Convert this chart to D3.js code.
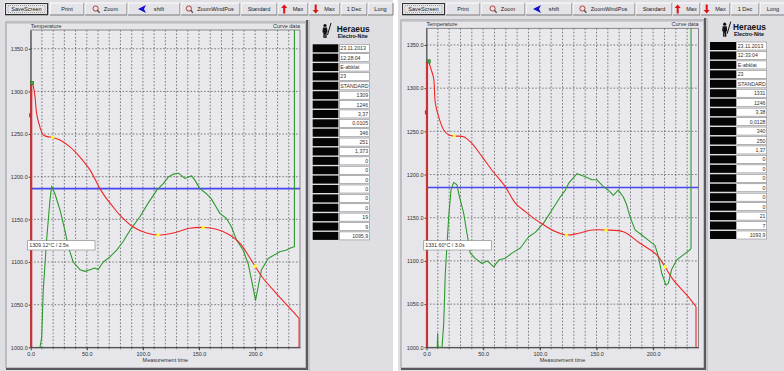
<!DOCTYPE html>
<html><head><meta charset="utf-8">
<script src="https://cdn.jsdelivr.net/npm/d3@7"></script>
<style>html,body{margin:0;padding:0;background:#fff;overflow:hidden}svg{display:block;font-family:"Liberation Sans",Arial,sans-serif}</style>
</head><body><svg id="c" width="784" height="371"></svg>
<script>
// ---------------- DATA ----------------
const buttonLabels = ["SaveScreen","Print","Zoom","shift","ZoomWindPos","Standard","Max","Max","1 Dec","Long"];
const xTickValues = [0,50,100,150,200];
const xGridValues = [10,20,30,40,50,60,70,80,90,100,110,120,130,140,150,160,170,180,190,200,210,220,230];
const yTickValues = [1000,1050,1100,1150,1200,1250,1300,1350];
const yAxisTitle = "Temperature";
const curveTitle = "Curve data";
const xAxisTitle = "Measurement time";

// left screenshot
const leftRedTime = [1.2,2,3.8,5.3,8.3,11.2,15,19.6,26.1,35,43.9,52.8,61.7,67.7,72,79.5,91.4,103.3,113.6,127,141.8,153.7,165.6,177.5,186.4,193.8,200,207.1,219,230.9,239.2,239.2];
const leftRedTemp = [1310,1308,1294,1274,1258,1249,1247,1246,1243,1235,1223,1208,1186,1174,1167,1155,1141,1134,1131.6,1134,1139.5,1140.5,1138.3,1131.6,1122,1108,1095,1081,1063,1046,1034,1000];
const leftGreenTime = [8.3,9.8,11.2,14.2,17.2,18.7,21.6,26.1,30.5,33.5,37.9,43.9,48.4,52.8,57.3,60,64.7,70.6,76.6,82.4,88.4,97.3,104.7,112.2,118.1,123,127,132,137.4,143.4,146.3,150.8,156.7,161,165,168.6,174.5,179,183.4,189.3,193.8,196.8,200.4,202.7,205.7,211.6,222,228,231,234.7,235,235];
const leftGreenTemp = [1000,1012,1067,1126,1173,1189,1180,1161,1137,1118,1100,1091,1089,1091,1093,1091,1100,1106,1114,1124,1137,1153,1169,1184,1192,1200,1203,1204,1198,1201,1196,1186,1180,1174,1165,1157,1151,1141,1126,1114,1098,1079,1055,1071,1091,1104,1112,1114,1116,1118,1118,1372];
const leftMarkersTime = [19.6,113.6,153.7,200];
const leftMarkersTemp = [1246,1131.6,1140.5,1095];
const leftStart = [1.2,1310];
const leftLevel = 1186;
const leftBoxText = "1309.12°C  /  2.5s";
const leftTable = ["23.11.2013","12:28:04","E-abklat","23","STANDARD","1309","1246","3,37","0,0105","346","251","1,373","0","0","0","0","0","0","19","9","1095,9"];

// right screenshot
const rightRedTime = [1.9,4,6.3,7.8,10.7,15.2,19.6,24.5,32.8,40.1,49,57.8,69.5,78.4,87.2,95,101.9,113.7,123.4,134.3,146,158.4,173.7,188.4,203.1,210.4,217.8,229.6,237.8,237.8];
const rightRedTemp = [1331,1322,1311.5,1282.5,1267,1251.6,1245.8,1244.6,1243.8,1236,1220.7,1205,1186,1167,1157,1149,1143,1134,1130,1132,1135.8,1135.8,1133.8,1120.4,1107,1093.3,1078,1060.6,1047,1000];
const rightGreenTime = [9.5,9.8,10.1,10.4,13.7,15.2,16.6,19.6,21.6,24,26.9,28.4,32.8,35.7,38.6,43,49,53.4,56.3,59.3,63.7,69.5,75.4,82.8,90.2,96,103.4,110.7,118,122.5,125.5,132.8,140.1,146,150.2,156.1,162,164.8,169.2,173.7,176.6,179.6,184,189.9,195.7,201.6,204.6,207.5,211.3,213.4,216.3,220.7,226.6,232.5,233.4,233.4];
const rightGreenTemp = [1000,1016,1003,1000,1000,1028,1086,1151,1182,1191,1188,1178,1155,1132,1109,1103,1097,1100,1097,1093,1101,1103,1109,1115,1128,1133,1144,1159,1174,1182,1190,1201,1197.5,1194,1194,1186,1180,1176,1182,1174,1165,1151,1136,1130,1124,1118,1105,1086,1072,1074,1090,1101,1107,1113,1115,1372];
const rightMarkersTime = [24.5,123.4,158.4,210.4];
const rightMarkersTemp = [1244.6,1130,1135.8,1093.3];
const rightStart = [1.9,1331];
const rightLevel = 1185;
const rightBoxText = "1331.60°C  /  3.0s";
const rightTable = ["23.11.2013","12:33:04","E-abklat","23","STANDARD","1331","1246","3,38","0,0128","340","250","1,37","0","0","0","0","0","0","21","7","1093,9"];
const redTick = 1272;

// ---------------- LAYOUT ----------------
const leftGeom = {
  bg:[0,393],
  buttons:[[5,48],[50,84],[85,127],[128,180],[181,240],[241,277],[278,308],[309,340],[341,367],[368,393]],
  panel:{x:6,y:22,w:300,h:346},
  plot:{x0:30.7,x1:300,y0:30,y1:347.3,yTop:1372},
  table:{bx:312.7,bw:25.6,wx:339.3,ww:30,y0:48.3,pitch:9.38,h:8},
  logo:{fx:322,tx:336.7,y:23},
  box:{x:27.7,y:240.7,w:67.3,h:9.3}
};
const rightGeom = {
  bg:[398,784],
  buttons:[[402,445],[446,480],[481,525],[526,572],[573,635],[636,672],[673,700],[701,730],[731,759],[760,786]],
  panel:{x:401,y:20,w:303,h:348},
  plot:{x0:426.5,x1:698.5,y0:28.3,y1:347.3,yTop:1369.3},
  table:{bx:710,bw:26,wx:736.7,ww:30,y0:46,pitch:9.45,h:8},
  logo:{fx:721.7,tx:733,y:21.7},
  box:{x:423.7,y:240.7,w:67.6,h:9.3}
};

const svg = d3.select("#c");
svg.append("rect").attr("width",784).attr("height",371).attr("fill","#ffffff");

function drawScreen(G, D, id){
  const root = svg.append("g");
  root.append("rect").attr("x",G.bg[0]).attr("y",0).attr("width",G.bg[1]-G.bg[0]).attr("height",371).attr("fill","#dedee3");

  // toolbar buttons
  G.buttons.forEach((b,i)=>{
    const bx=b[0], bw=b[1]-b[0], by=3, bh=12;
    const bg = root.append("g");
    bg.append("rect").attr("x",bx).attr("y",by).attr("width",bw).attr("height",bh).attr("fill","#e4e4e8");
    bg.append("path").attr("d",`M${bx},${by+bh}V${by}H${bx+bw}`).attr("stroke","#ffffff").attr("fill","none");
    bg.append("path").attr("d",`M${bx},${by+bh}H${bx+bw}V${by}`).attr("stroke","#7a7a7a").attr("fill","none");
    if(i===0){
      bg.append("rect").attr("x",bx+0.5).attr("y",by+0.5).attr("width",bw-1).attr("height",bh-1).attr("fill","none").attr("stroke","#303030").attr("stroke-width",1);
      bg.append("rect").attr("x",bx+3).attr("y",by+2.5).attr("width",bw-6).attr("height",bh-5).attr("fill","none").attr("stroke","#606060").attr("stroke-width",0.5).attr("stroke-dasharray","1,1");
    }
    let tx = bx+bw/2;
    const icon = (i===2||i===4)?"mag":(i===3?"arr":(i===6?"up":(i===7?"dn":null)));
    if(icon){
      const ix = bx+bw/2 - (buttonLabels[i].length*1.6) - 4;
      tx += 5;
      if(icon==="mag"){
        bg.append("circle").attr("cx",ix).attr("cy",by+5.5).attr("r",2.6).attr("fill","#f0e0e0").attr("stroke","#a03030").attr("stroke-width",0.9);
        bg.append("line").attr("x1",ix+1.8).attr("y1",by+7.3).attr("x2",ix+4).attr("y2",by+9.7).attr("stroke","#505050").attr("stroke-width",1.3);
      } else if(icon==="arr"){
        bg.append("path").attr("d",`M${ix-4},${by+6}L${ix+4},${by+2}L${ix+2},${by+6}L${ix+4},${by+10}Z`).attr("fill","#1010d0");
      } else if(icon==="up"){
        bg.append("path").attr("d",`M${ix},${by+1.5}L${ix+3},${by+5}H${ix+1}V${by+10.5}H${ix-1}V${by+5}H${ix-3}Z`).attr("fill","#e01010");
      } else {
        bg.append("path").attr("d",`M${ix},${by+10.5}L${ix+3},${by+7}H${ix+1}V${by+1.5}H${ix-1}V${by+7}H${ix-3}Z`).attr("fill","#e01010");
      }
    }
    bg.append("text").attr("x",tx).attr("y",by+8.2).attr("text-anchor","middle").attr("font-size",5.6).attr("fill","#202020").text(buttonLabels[i]);
  });

  // panel
  const P=G.panel;
  root.append("rect").attr("x",P.x).attr("y",P.y).attr("width",P.w).attr("height",P.h).attr("fill","#e6e6ea").attr("stroke","#9a9a9e").attr("stroke-width",1);
  root.append("path").attr("d",`M${P.x+P.w+1},${P.y-2}V${P.y+P.h+1}H${P.x}`).attr("stroke","#5a5a5e").attr("stroke-width",2).attr("fill","none");
  root.append("line").attr("x1",P.x+P.w+3).attr("x2",P.x+P.w+3).attr("y1",P.y-2).attr("y2",371).attr("stroke","#a8a8ac").attr("stroke-width",1);

  const p=G.plot;
  const x = d3.scaleLinear().domain([0,240]).range([p.x0,p.x1]);
  const y = d3.scaleLinear().domain([1000,p.yTop]).range([p.y1,p.y0]);

  root.append("rect").attr("x",p.x0).attr("y",p.y0).attr("width",p.x1-p.x0).attr("height",p.y1-p.y0).attr("fill","#e9e9ed");

  // grid
  root.append("g").selectAll("line").data(xGridValues).join("line")
    .attr("x1",d=>x(d)).attr("x2",d=>x(d)).attr("y1",p.y0).attr("y2",p.y1)
    .attr("stroke","#4a4a4a").attr("stroke-width",0.7).attr("stroke-dasharray","1.6,1.8");
  root.append("g").selectAll("line").data(yTickValues.slice(1)).join("line")
    .attr("x1",p.x0).attr("x2",p.x1).attr("y1",d=>y(d)).attr("y2",d=>y(d))
    .attr("stroke","#4a4a4a").attr("stroke-width",0.7).attr("stroke-dasharray","1.6,1.8");

  // frame
  root.append("rect").attr("x",p.x0).attr("y",p.y0).attr("width",p.x1-p.x0).attr("height",p.y1-p.y0).attr("fill","none").attr("stroke","#707074").attr("stroke-width",0.8);
  root.append("line").attr("x1",P.x).attr("x2",P.x+P.w).attr("y1",P.y+1.5).attr("y2",P.y+1.5).attr("stroke","#c8c8cc").attr("stroke-width",0.8);

  // axes
  const xa = d3.axisBottom(x).tickValues(xTickValues).tickFormat(d3.format(".1f")).tickSize(3).tickSizeOuter(0);
  const gx = root.append("g").attr("transform",`translate(0,${p.y1})`).call(xa);
  gx.select(".domain").attr("stroke","#303030").attr("stroke-width",0.9);
  gx.selectAll(".tick line").attr("stroke","#404040");
  gx.selectAll(".tick text").attr("font-size",5.5).attr("fill","#303030").attr("dy","0.5em").attr("font-family","Liberation Sans, Arial, sans-serif");
  root.append("g").selectAll("line").data(xGridValues).join("line")
    .attr("x1",d=>x(d)).attr("x2",d=>x(d)).attr("y1",p.y1).attr("y2",p.y1+2).attr("stroke","#404040").attr("stroke-width",0.6);
  const ya = d3.axisLeft(y).tickValues(yTickValues).tickFormat(d3.format(".1f")).tickSize(2).tickSizeOuter(0);
  const gy = root.append("g").attr("transform",`translate(${p.x0},0)`).call(ya);
  gy.select(".domain").attr("stroke","#303030").attr("stroke-width",0.8);
  gy.selectAll(".tick line").attr("stroke","#404040");
  gy.selectAll(".tick text").attr("font-size",5.5).attr("fill","#303030").attr("x",-3).attr("font-family","Liberation Sans, Arial, sans-serif");

  root.append("text").attr("x",p.x0).attr("y",p.y0-2).attr("font-size",5.5).attr("fill","#303030").text(yAxisTitle);
  root.append("text").attr("x",p.x1).attr("y",p.y0-2).attr("text-anchor","end").attr("font-size",5.5).attr("fill","#303030").text(curveTitle);
  root.append("text").attr("x",x(120)).attr("y",p.y1+15).attr("text-anchor","middle").attr("font-size",5.5).attr("fill","#303030").text(xAxisTitle);

  // clip
  svg.append("clipPath").attr("id","clip"+id).append("rect").attr("x",p.x0).attr("y",p.y0).attr("width",p.x1-p.x0).attr("height",p.y1-p.y0+0.5);
  const cg = root.append("g").attr("clip-path",`url(#clip${id})`);

  // level line
  cg.append("line").attr("x1",p.x0).attr("x2",p.x1).attr("y1",y(D.level)).attr("y2",y(D.level)).attr("stroke","#4646f0").attr("stroke-width",1.6);

  const line = d3.line().x(d=>x(d[0])).y(d=>y(d[1]));
  const smooth = d3.line().x(d=>x(d[0])).y(d=>y(d[1])).curve(d3.curveCatmullRom.alpha(0.5));
  const green = D.gT.map((t,i)=>[t,D.gV[i]]);
  const red = D.rT.map((t,i)=>[t,D.rV[i]]);
  cg.append("path").attr("d",line(green)).attr("fill","none").attr("stroke","#2c9a2c").attr("stroke-width",1.1).attr("stroke-linejoin","round");
  // start bar
  root.append("line").attr("x1",x(0)+0.5).attr("x2",x(0)+0.5).attr("y1",y(1000)).attr("y2",y(D.start[1])).attr("stroke","#c83434").attr("stroke-width",2.2);
  root.append("rect").attr("x",x(0)-1.6).attr("y",y(redTick)-2).attr("width",1.4).attr("height",4).attr("fill","#e02020");
  const redMain = red.slice(0,-1);
  cg.append("path").attr("d",smooth(redMain)).attr("fill","none").attr("stroke","#f02424").attr("stroke-width",1.1).attr("stroke-linejoin","round");
  cg.append("path").attr("d",line(red.slice(-2))).attr("fill","none").attr("stroke","#f02424").attr("stroke-width",1.1);
  cg.append("path").attr("d",line([[0,D.start[1]],red[0]])).attr("fill","none").attr("stroke","#f02424").attr("stroke-width",1.1);

  // markers
  root.append("rect").attr("x",x(D.start[0])-1.6).attr("y",y(D.start[1])-1.6).attr("width",3.2).attr("height",3.2).attr("fill","#40b040").attr("stroke","#206020").attr("stroke-width",0.6);
  root.append("g").selectAll("rect").data(D.mT.map((t,i)=>[t,D.mV[i]])).join("rect")
    .attr("x",d=>x(d[0])-1.5).attr("y",d=>y(d[1])-1.5).attr("width",3).attr("height",3).attr("fill","#ffff20");

  // value box
  const B=G.box;
  root.append("rect").attr("x",B.x).attr("y",B.y).attr("width",B.w).attr("height",B.h).attr("fill","#ffffff").attr("stroke","#808080").attr("stroke-width",0.6);
  root.append("text").attr("x",B.x+1.5).attr("y",B.y+6.4).attr("font-size",5.3).attr("fill","#303030").text(D.box);

  // table
  const T=G.table;
  D.table.forEach((v,i)=>{
    const ry = T.y0 + i*T.pitch - T.h/2;
    root.append("rect").attr("x",T.bx).attr("y",ry).attr("width",T.bw).attr("height",T.h).attr("fill","#050505");
    root.append("rect").attr("x",T.wx).attr("y",ry).attr("width",T.ww).attr("height",T.h).attr("fill","#ffffff").attr("stroke","#8a8a8e").attr("stroke-width",0.6);
    const left = i<5;
    root.append("text").attr("x",left?T.wx+1:T.wx+T.ww-1.2).attr("y",ry+6).attr("text-anchor",left?"start":"end")
      .attr("font-size",5.2).attr("fill","#303030").text(v);
  });

  // logo
  const L=G.logo;
  const lg = root.append("g");
  lg.append("circle").attr("cx",L.fx+3).attr("cy",L.y+2.5).attr("r",1.6).attr("fill","#111");
  lg.append("path").attr("d",`M${L.fx+1},${L.y+4.5}h4l0.6,5h-1v5.5h-1.4v-4h-0.4v4h-1.4v-5.5h-1z`).attr("fill","#111");
  lg.append("line").attr("x1",L.fx+5.5).attr("y1",L.y+12).attr("x2",L.fx+9).attr("y2",L.y).attr("stroke","#111").attr("stroke-width",1);
  lg.append("text").attr("x",L.tx).attr("y",L.y+8.5).attr("font-size",9.5).attr("font-weight","bold").attr("fill","#111").attr("textLength",33).attr("lengthAdjust","spacingAndGlyphs").text("Heraeus");
  lg.append("text").attr("x",L.tx+1).attr("y",L.y+14.5).attr("font-size",5.2).attr("font-weight","bold").attr("fill","#111").attr("textLength",30).attr("lengthAdjust","spacingAndGlyphs").text("Electro-Nite");
}

drawScreen(leftGeom,{rT:leftRedTime,rV:leftRedTemp,gT:leftGreenTime,gV:leftGreenTemp,mT:leftMarkersTime,mV:leftMarkersTemp,start:leftStart,level:leftLevel,box:leftBoxText,table:leftTable},"L");
drawScreen(rightGeom,{rT:rightRedTime,rV:rightRedTemp,gT:rightGreenTime,gV:rightGreenTemp,mT:rightMarkersTime,mV:rightMarkersTemp,start:rightStart,level:rightLevel,box:rightBoxText,table:rightTable},"R");
</script></body></html>
